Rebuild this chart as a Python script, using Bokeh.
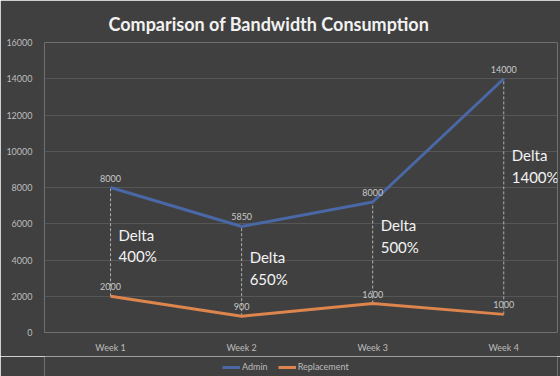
from bokeh.plotting import figure
from bokeh.layouts import column
from bokeh.models import Range1d, Legend, LegendItem, ColumnDataSource, FixedTicker, Title
from bokeh.core.properties import value
from bokeh.embed import file_html
from bokeh.resources import INLINE

weeks = ["Week 1", "Week 2", "Week 3", "Week 4"]
admin = [8000, 5850, 7200, 14000]
replacement = [2000, 900, 1600, 1000]
admin_labels = ["8000", "5850", "8000", "14000"]
replacement_labels = ["2000", "900", "1600", "1000"]
delta_labels = ["Delta\n400%", "Delta\n650%", "Delta\n500%", "Delta\n1400%"]
delta_y = [5900, 4650, 6420, 10290]
y_ticks = [0, 2000, 4000, 6000, 8000, 10000, 12000, 14000, 16000]

xs = list(range(1, len(weeks) + 1))
FONT = "Lato"
BG = "#404040"
BLUE = "#4a68a6"
ORANGE = "#dd854d"
LABEL = "#c8c8c8"

p = figure(width=560, output_backend="svg", toolbar_location=None,
           x_range=Range1d(0.496, 4.41), y_range=Range1d(0, 16000),
           frame_width=513, frame_height=290,
           min_border_left=44, min_border_right=3, min_border_top=42, min_border_bottom=24)
p.background_fill_color = BG
p.border_fill_color = BG
p.outline_line_color = None

p.title = Title(text="Comparison of Bandwidth Consumption", align="left",
                text_font=FONT, text_font_size="18px", text_font_style="bold",
                text_color="#f2f2f2", standoff=16, offset=64)

for ax in (p.xaxis, p.yaxis):
    ax.axis_line_color = None
    ax.major_tick_line_color = None
    ax.minor_tick_line_color = None
    ax.major_tick_out = 0
    ax.major_tick_in = 0
    ax.minor_tick_out = 0
    ax.minor_tick_in = 0
    ax.axis_label_standoff = 0
    ax.major_label_text_color = "#bdbdbd"
    ax.major_label_text_font = FONT
    ax.major_label_text_font_size = "9px"
p.yaxis.ticker = FixedTicker(ticks=y_ticks)
p.xaxis.ticker = FixedTicker(ticks=xs)
p.xaxis.major_label_overrides = {x: w for x, w in zip(xs, weeks)}
p.xaxis.major_label_standoff = 9
p.yaxis.major_label_standoff = 12
p.xgrid.grid_line_color = None
p.ygrid.grid_line_color = "#565656"
p.ygrid.grid_line_width = 1

src = ColumnDataSource(dict(x=xs, admin=admin, rep=replacement,
                            al=admin_labels, rl=replacement_labels,
                            dl=delta_labels, dy=delta_y))

p.segment(x0="x", y0="rep", x1="x", y1="admin", source=src,
          line_color="#b0b0b0", line_width=1, line_dash="3 2")

p.line("x", "admin", source=src, line_color=BLUE, line_width=3)
p.line("x", "rep", source=src, line_color=ORANGE, line_width=3)

p.text(x="x", y="admin", text="al", source=src, text_align="center",
       text_baseline="bottom", y_offset=-6, text_font=value(FONT),
       text_font_size="9px", text_color=LABEL)
p.text(x="x", y="rep", text="rl", source=src, text_align="center",
       text_baseline="bottom", y_offset=-6, text_font=value(FONT),
       text_font_size="9px", text_color=LABEL)
p.text(x="x", y="dy", text="dl", source=src, text_align="left",
       text_baseline="top", x_offset=8, text_font=value(FONT),
       text_font_size="15px", text_color="#f4f4f4", text_line_height=1.2)

# legend strip below the chart (series drawn out of view, only their legend glyphs show)
lg = figure(width=560, height=20, output_backend="svg", toolbar_location=None,
            x_range=Range1d(100, 101), y_range=Range1d(100, 101),
            min_border=0)
lg.background_fill_color = BG
lg.border_fill_color = BG
lg.outline_line_color = None
lg.axis.visible = False
lg.grid.visible = False
la = lg.line("x", "admin", source=src, line_color=BLUE, line_width=3)
lr = lg.line("x", "rep", source=src, line_color=ORANGE, line_width=3)
legend = Legend(items=[LegendItem(label="Admin", renderers=[la]),
                       LegendItem(label="Replacement", renderers=[lr])],
                orientation="horizontal", location=(178, 4),
                background_fill_alpha=0, border_line_color=None,
                label_text_color="#bdbdbd", label_text_font=FONT,
                label_text_font_size="9px", glyph_width=18, glyph_height=10,
                label_height=10, label_standoff=2, spacing=10, padding=1, margin=0)
lg.add_layout(legend)

layout = column(p, lg, spacing=0)
open("out.html", "w").write(file_html(layout, INLINE))
